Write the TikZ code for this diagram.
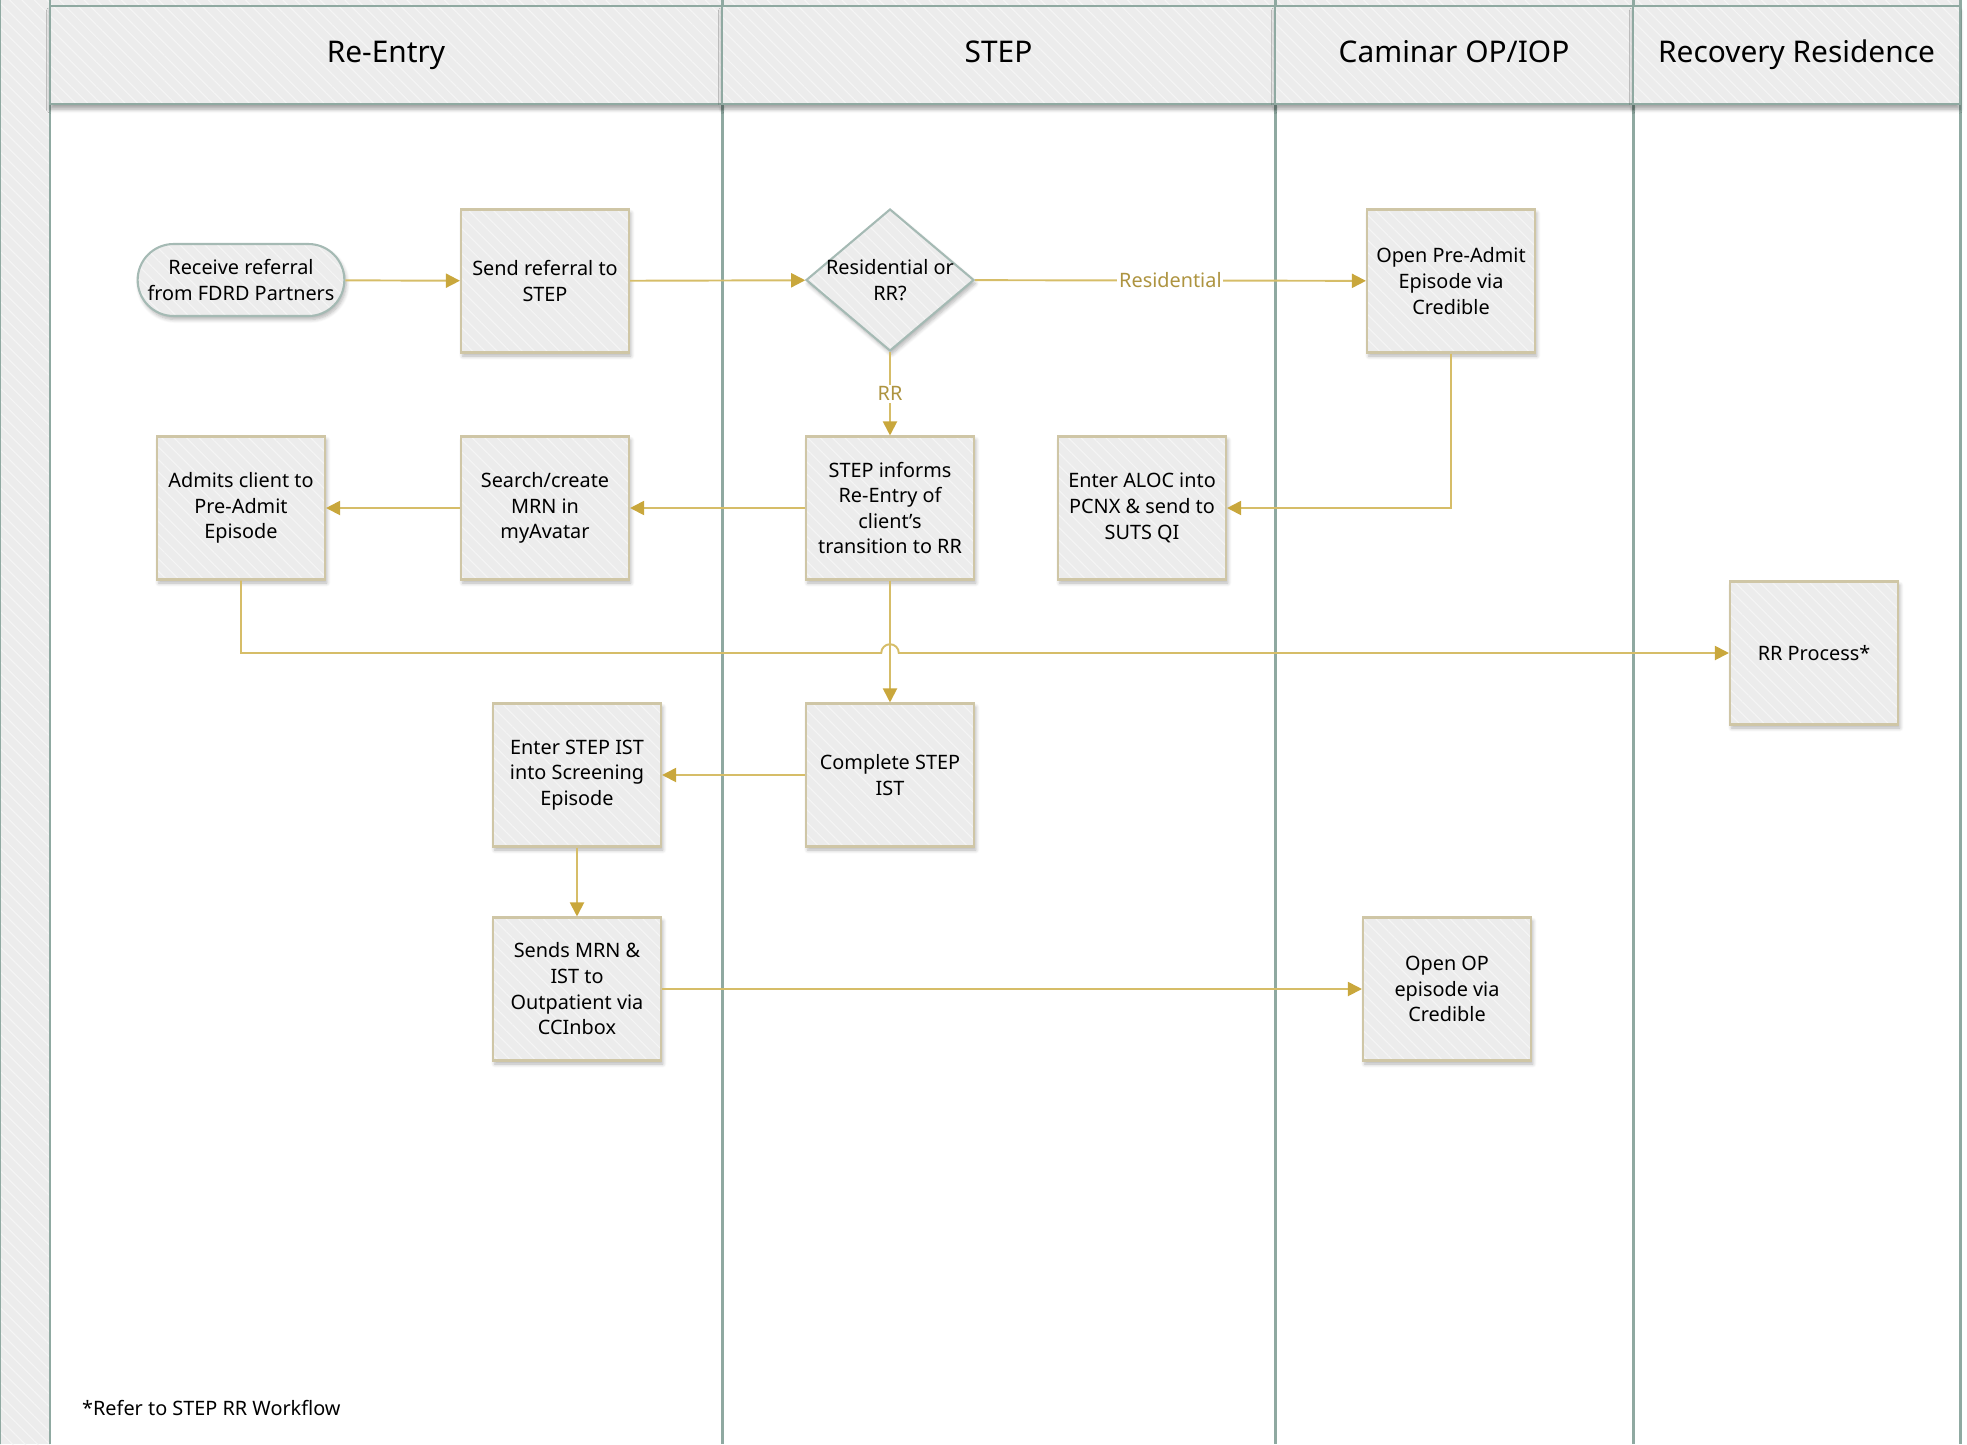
\documentclass[tikz,border=0pt]{standalone}
\usepackage{fontspec}
\setmainfont{Noto Sans}
\usepackage{tikz}
\usetikzlibrary{shapes.geometric,shapes.misc}
\usetikzlibrary{arrows.meta,patterns.meta,shadows.blur}
\definecolor{lanegray}{HTML}{8FA9A1}
\definecolor{boxfill}{HTML}{ECECEC}
\definecolor{boxline}{HTML}{CFC6A6}
\definecolor{flowgold}{HTML}{D6BD68}
\definecolor{tipgold}{HTML}{C9A73C}
\definecolor{labelgold}{HTML}{AE9440}
\tikzset{
	hatched/.style={preaction={fill=boxfill},pattern={Lines[angle=-45,distance=5pt,line width=0.6pt]},pattern color=white!45!boxfill},
	soft shadow/.style={blur shadow={shadow xshift=1pt,shadow yshift=-2pt,shadow blur steps=6,shadow opacity=30}},
	task box/.style={rectangle,soft shadow,hatched,draw=boxline,line width=1.2pt,minimum width=3.36cm,minimum height=2.86cm,
		inner sep=2pt,align=center,font=\fontsize{11.3}{14.6}\selectfont},
	start box/.style={rounded rectangle,soft shadow,hatched,draw=lanegray!80,line width=1.2pt,minimum width=4.1cm,minimum height=1.44cm,
		inner sep=2pt,align=center,font=\fontsize{11.3}{14.6}\selectfont},
	choice box/.style={diamond,soft shadow,hatched,draw=lanegray!80,line width=1.2pt,minimum width=3.36cm,minimum height=2.84cm,
		inner sep=0pt,align=center,font=\fontsize{11.3}{14.6}\selectfont},
	lane head/.style={rectangle,blur shadow={shadow xshift=0pt,shadow yshift=-3pt,shadow blur steps=6,shadow opacity=35},hatched,
		draw=lanegray,line width=1.6pt,minimum height=1.96cm,text height=12pt,text depth=4pt,font=\fontsize{17}{20}\selectfont},
	lane line/.style={draw=lanegray,line width=1.7pt},
	flow/.style={->,draw=flowgold,line width=1.1pt},
	flow label/.style={fill=white,text=labelgold,inner sep=1pt,font=\fontsize{11.3}{14.6}\selectfont}
}

\begin{document}
\begin{tikzpicture}[x=0.02cm,y=-0.02cm,>={Triangle[length=8pt,width=8pt,color=tipgold]}]
	\useasboundingbox (0,0) rectangle (1967,1444);
	% pool frame and lanes
	\fill[hatched] (0,0) rectangle (1960,6);
	\fill[hatched] (0,0) rectangle (50,1444);
	\foreach \x in {50,722,1275,1633,1960}
		\draw[lane line] (\x,0) -- (\x,1444);
	\draw[lane line] (0,0) -- (0,1444);
	\node[lane head,minimum width=13.44cm] (hReEntry) at (386,55) {Re-Entry};
	\node[lane head,minimum width=11.06cm] (hStep) at (998.5,55) {STEP};
	\node[lane head,minimum width=7.16cm] (hCaminar) at (1454,55) {Caminar OP/IOP};
	\node[lane head,minimum width=6.54cm] (hRecovery) at (1796.5,55) {Recovery Residence};

	% steps
	\node[start box] (recv) at (241,280) {Receive referral\\from FDRD Partners};
	\node[task box] (send) at (545,281) {Send referral to\\STEP};
	\node[choice box] (dec) at (890,280) {\makebox[0pt]{Residential or}\\\makebox[0pt]{RR?}};
	\node[task box] (openpre) at (1451,281) {Open Pre-Admit\\Episode via\\Credible};
	\node[task box] (admit) at (241,508) {Admits client to\\Pre-Admit\\Episode};
	\node[task box] (search) at (545,508) {Search/create\\MRN in\\myAvatar};
	\node[task box] (inform) at (890,508) {STEP informs\\Re-Entry of\\client’s\\transition to RR};
	\node[task box] (aloc) at (1142,508) {Enter ALOC into\\PCNX \& send to\\SUTS QI};
	\node[task box] (rrproc) at (1814,653) {RR Process*};
	\node[task box] (enterist) at (577,775) {Enter STEP IST\\into Screening\\Episode};
	\node[task box] (complete) at (890,775) {Complete STEP\\IST};
	\node[task box] (sends) at (577,989) {Sends MRN \&\\IST to\\Outpatient via\\CCInbox};
	\node[task box] (openop) at (1447,989) {Open OP\\episode via\\Credible};
	\node[anchor=west,font=\fontsize{11.3}{14.6}\selectfont] (note) at (76,1408) {*Refer to STEP RR Workflow};

	% connectors
	\coordinate (jump) at (inform.south |- rrproc.west);
	\draw[flow] (recv) -- (send);
	\draw[flow] (send) -- (dec);
	\draw[flow] (dec) -- node[flow label]{Residential} (openpre);
	\draw[flow] (dec) -- node[flow label]{RR} (inform);
	\draw[flow] (openpre) |- (aloc);
	\draw[flow] (inform) -- (search);
	\draw[flow] (search) -- (admit);
	\draw[flow] (inform) -- (complete);
	\draw[flow] (admit) |- ([xshift=-5pt]jump) arc[start angle=180,end angle=0,radius=5pt] -- (rrproc);
	\draw[flow] (complete) -- (enterist);
	\draw[flow] (enterist) -- (sends);
	\draw[flow] (sends) -- (openop);
\end{tikzpicture}
\end{document}
